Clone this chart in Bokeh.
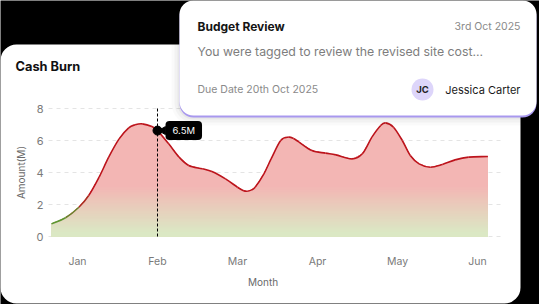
import numpy as np
from bokeh.plotting import figure
from bokeh.models import (Range1d, FixedTicker, BoxAnnotation, Label, LinearAxis, Grid)
from bokeh.embed import file_html
from bokeh.resources import INLINE

FONT = "Inter"

# ---------------- data ----------------
month_ticks = [0, 1, 2, 3, 4, 5]
month_labels = ["Jan", "Feb", "Mar", "Apr", "May", "Jun"]
y_ticks = [0, 2, 4, 6, 8]

burn_month = [-0.325, -0.15, 0.017, 0.14, 0.27, 0.39, 0.52, 0.64, 0.72, 0.81, 0.93, 1.0,
              1.14, 1.27, 1.39, 1.56, 1.68, 1.85, 2.0, 2.07, 2.12, 2.17, 2.22, 2.33, 2.42,
              2.54, 2.64, 2.7, 2.77, 2.93, 3.1, 3.23, 3.43, 3.56, 3.68, 3.79, 3.85, 3.95,
              4.06, 4.16, 4.27, 4.41, 4.56, 4.72, 4.89, 5.13]
burn_value = [0.79, 1.17, 1.83, 2.56, 3.71, 4.96, 6.1, 6.79, 6.98, 7.04, 6.87, 6.62,
              5.79, 4.96, 4.44, 4.23, 4.06, 3.6, 3.08, 2.88, 2.83, 2.9, 3.08, 3.92, 4.85,
              6.0, 6.21, 6.12, 5.9, 5.375, 5.21, 5.1, 4.85, 5.17, 6.21, 6.94, 7.1, 6.83,
              6.0, 5.06, 4.54, 4.33, 4.5, 4.79, 4.96, 5.0]

tip_month = 1.0
tip_value = 6.62
tip_text = "6.5M"

card_title = "Cash Burn"
note_title = "Budget Review"
note_date = "3rd Oct 2025"
note_body = "You were tagged to review the revised site cost..."
note_due = "Due Date 20th Oct 2025"
note_initials = "JC"
note_person = "Jessica Carter"

# ---------------- figure (frame = whole canvas) ----------------
p = figure(width=539, height=304, output_backend="svg", toolbar_location=None,
           x_range=Range1d(-0.9625, 5.775), y_range=Range1d(-4.25, 14.75),
           x_axis_location=None, y_axis_location=None, title_location=None,
           min_border=0, min_border_left=0, min_border_right=0, min_border_top=0,
           min_border_bottom=0, background_fill_color="black", border_fill_color="black",
           outline_line_color=None)
# helper ranges in canvas pixels (y downward) for the decorative cards
p.extra_x_ranges = {"px": Range1d(0, 539)}
p.extra_y_ranges = {"px": Range1d(304, 0)}
PX = dict(x_range_name="px", y_range_name="px")

# white chart card, painted beneath everything
p.add_layout(BoxAnnotation(left=0, right=520, top=44, bottom=303, border_radius=16,
                           fill_color="white", fill_alpha=1, line_color=None,
                           level="image", **PX))

# grid
for g in p.grid:
    g.visible = False
grid_kw = dict(dimension=1, ticker=FixedTicker(ticks=y_ticks), grid_line_color="#e4e4e4",
               grid_line_dash="4 4")
if "cross_bounds" in Grid.properties():
    p.add_layout(Grid(cross_bounds=(-0.3625, 5.325), **grid_kw), "center")
else:
    p.segment(x0=[-0.3625] * len(y_ticks), y0=y_ticks, x1=[5.325] * len(y_ticks), y1=y_ticks,
              line_color="#e4e4e4", line_dash="4 4", line_width=1)

x = np.array(burn_month, dtype=float)
v = np.array(burn_value, dtype=float)

# gradient fill from stacked bands
pink = np.array([243, 182, 180])
green = np.array([219, 232, 196])
def hexc(c):
    c = np.clip(np.round(c), 0, 255).astype(int)
    return "#%02x%02x%02x" % tuple(c)

for b in np.arange(8.0, 0.0, -0.1):
    t = np.clip((b - 0.3) / (3.2 - 0.3), 0, 1)
    p.varea(x=x, y1=np.zeros_like(v), y2=np.minimum(v, b),
            fill_color=hexc(green + (pink - green) * t), fill_alpha=1)

# smooth line through the read points (Catmull-Rom control points -> Bezier glyph)
xe = np.concatenate([[2 * x[0] - x[1]], x, [2 * x[-1] - x[-2]]])
ve = np.concatenate([[2 * v[0] - v[1]], v, [2 * v[-1] - v[-2]]])
n = len(x) - 1
cx0 = x[:-1] + (xe[2:n + 2] - xe[0:n]) / 6
cy0 = v[:-1] + (ve[2:n + 2] - ve[0:n]) / 6
cx1 = x[1:] - (xe[3:n + 3] - xe[1:n + 1]) / 6
cy1 = v[1:] - (ve[3:n + 3] - ve[1:n + 1]) / 6
red = np.array([188, 20, 28])
grn = np.array([92, 150, 48])
mid = (v[:-1] + v[1:]) / 2
seg_cols = [hexc(grn + (red - grn) * np.clip((m - 1.3) / (2.4 - 1.3), 0, 1)) for m in mid]
p.bezier(x0=x[:-1], y0=v[:-1], x1=x[1:], y1=v[1:], cx0=cx0, cy0=cy0, cx1=cx1, cy1=cy1,
         line_color=seg_cols, line_width=1.6)

# hover guide
p.segment(x0=[tip_month], y0=[0], x1=[tip_month], y1=[8.1], line_color="black",
          line_width=1, line_dash="3 2")
p.scatter(x=[tip_month], y=[tip_value], size=9, color="black")
p.scatter(x=[tip_month + 0.07], y=[tip_value], marker="triangle", angle=np.pi / 2,
          size=8, color="black")
p.add_layout(Label(x=tip_month, y=tip_value, x_offset=8, text=tip_text,
                   text_baseline="middle", text_align="left", text_color="white",
                   text_font=FONT, text_font_size="9.5px",
                   background_fill_color="black", border_radius=4, padding=(7, 4)))

# axes, pinned at the chart-area edges
xax = LinearAxis(fixed_location=-0.25, ticker=FixedTicker(ticks=month_ticks),
                 major_label_overrides={t: l for t, l in zip(month_ticks, month_labels)},
                 axis_label="Month", bounds=(-0.36, 5.0))
yax = LinearAxis(fixed_location=-0.3625, ticker=FixedTicker(ticks=y_ticks),
                 axis_label="Amount(M)", bounds=(0, 8))
for ax in (xax, yax):
    ax.axis_line_color = None
    ax.major_tick_line_color = None
    ax.minor_tick_line_color = None
    ax.major_tick_out = 0
    ax.major_tick_in = 0
    ax.minor_tick_out = 0
    ax.major_label_text_color = "#7a7a7a"
    ax.major_label_text_font = FONT
    ax.axis_label_text_font = FONT
    ax.axis_label_text_font_style = "normal"
    ax.axis_label_text_color = "#6a6a6a"
    ax.axis_label_text_font_size = "10px"
xax.major_label_text_font_size = "10.5px"
yax.major_label_text_font_size = "11px"
xax.major_label_standoff = 14
xax.axis_label_standoff = 5
yax.major_label_standoff = 5
yax.axis_label_standoff = 6
p.add_layout(xax, "below")
p.add_layout(yax, "left")

# card title
p.add_layout(Label(x=15, y=66, text=card_title, text_baseline="middle",
                   text_font=FONT, text_font_style="bold", text_font_size="12.8px",
                   text_color="#111111", **PX))

# ---------------- notification card ----------------
for (l, r, t, b, rad, a) in [(171, 544, -8, 125, 22, 0.02), (174, 541, -5, 122, 19, 0.03),
                             (177, 538, -2, 119, 16, 0.045)]:
    p.add_layout(BoxAnnotation(left=l, right=r, top=t, bottom=b, border_radius=rad,
                               fill_color="black", fill_alpha=a, line_color=None, **PX))
p.add_layout(BoxAnnotation(left=179, right=536, top=2, bottom=117, border_radius=14,
                           fill_color="#a898ee", fill_alpha=1, line_color=None, **PX))
p.add_layout(BoxAnnotation(left=179, right=536, top=0, bottom=115, border_radius=14,
                           fill_color="white", fill_alpha=1, line_color=None, **PX))
p.add_layout(BoxAnnotation(left=411, right=433, top=78, bottom=100, border_radius=11,
                           fill_color="#ddd5fa", fill_alpha=1, line_color=None, **PX))

def lab(xx, yy, txt, size, color, bold=False, align="left"):
    p.add_layout(Label(x=xx, y=yy, text=txt, text_baseline="middle", text_align=align,
                       text_font=FONT, text_font_size=size, text_color=color,
                       text_font_style="bold" if bold else "normal", **PX))

lab(197, 26, note_title, "12px", "#151515", bold=True)
lab(520, 26, note_date, "10.5px", "#8a8a8a", align="right")
lab(197, 51, note_body, "12.3px", "#7d7d7d")
lab(197, 89, note_due, "10.5px", "#8a8a8a")
lab(422, 89, note_initials, "9.5px", "#1e1e1e", bold=True, align="center")
lab(520, 89, note_person, "11px", "#1a1a1a", align="right")

open("out.html", "w").write(file_html(p, INLINE))
